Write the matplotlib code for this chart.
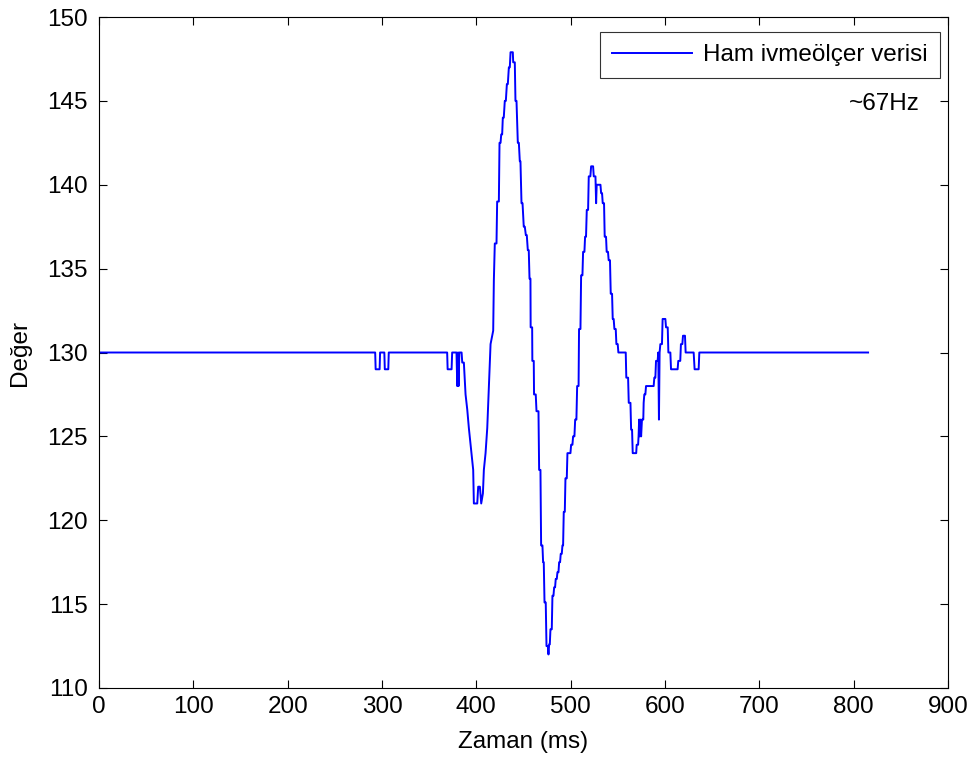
import matplotlib
matplotlib.use("Agg")
import matplotlib.pyplot as plt

# Sample times (ms) and raw accelerometer values
time_ms = [
    0, 292.8, 293.3, 297.5, 298.0, 302.5, 303.0, 306.7, 307.2, 369.1,
    369.6, 373.8, 374.4, 379.0, 379.8, 380.6, 381.2, 382.0, 384.4, 385.1,
    386.8, 388.6, 390.4, 392.1, 393.9, 396.7, 397.4, 401.0, 402.0, 403.8,
    405.2, 407.0, 408.0, 409.8, 411.6, 413.3, 415.1, 417.9, 418.6, 419.6,
    421.4, 422.1, 423.9, 424.6, 425.7, 426.4, 427.4, 428.1, 429.1, 430.2,
    431.3, 432.4, 433.4, 434.5, 435.5, 436.3, 438.7, 439.1, 440.8, 441.5,
    442.6, 444.0, 445.1, 446.1, 446.8, 447.9, 449.0, 450.3, 451.4, 452.5,
    453.5, 454.6, 455.6, 456.4, 457.4, 457.6, 459.2, 459.4, 460.9, 461.2,
    463.0, 463.8, 465.9, 466.6, 468.0, 468.7, 470.1, 470.8, 471.5, 472.3,
    473.6, 474.4, 475.8, 476.5, 477.2, 477.9, 478.6, 480.0, 480.7, 481.8,
    482.5, 483.5, 484.2, 485.3, 486.0, 487.1, 487.8, 488.8, 489.5, 490.6,
    491.3, 492.0, 492.7, 493.8, 494.5, 495.9, 496.6, 499.8, 500.5, 501.9,
    502.6, 504.0, 504.8, 506.1, 506.9, 508.4, 508.9, 510.4, 511.1, 512.5,
    513.2, 514.6, 515.3, 516.3, 517.1, 518.5, 519.2, 520.9, 521.7, 523.8,
    524.5, 526.3, 527.0, 527.6, 531.6, 532.3, 533.3, 534.0, 535.4, 536.1,
    537.5, 538.2, 539.6, 540.3, 541.7, 542.5, 543.9, 544.6, 545.6, 546.4,
    547.8, 548.5, 549.9, 550.6, 558.4, 559.0, 560.9, 561.6, 563.4, 564.1,
    565.1, 565.8, 569.5, 570.0, 571.5, 572.0, 572.6, 573.3, 574.0, 574.7,
    575.6, 577.0, 577.4, 578.1, 579.2, 579.9, 588.0, 588.7, 589.8, 590.5,
    592.2, 592.9, 593.6, 594.3, 595.1, 596.8, 597.5, 600.4, 601.1, 602.9,
    603.6, 605.7, 606.4, 613.4, 614.1, 616.2, 616.9, 618.4, 619.1, 621.2,
    621.9, 630.4, 631.4, 635.7, 636.4, 815.3,
]
values = [
    130, 130, 129, 129, 130, 130, 129, 129, 130, 130,
    129, 129, 130, 130, 128, 130, 128, 130, 130, 129.4,
    129.4, 127.5, 126.6, 125.5, 124.5, 123.0, 121.0, 121.0, 122.0, 122.0,
    121.0, 121.6, 123.0, 124.0, 125.5, 128.0, 130.5, 131.3, 134.3, 136.5,
    136.5, 139.0, 139.0, 142.5, 142.5, 143.0, 143.0, 144.0, 144.0, 145.0,
    145.0, 146.0, 146.0, 147.0, 147.0, 147.9, 147.9, 147.3, 147.3, 145.0,
    145.0, 142.5, 142.5, 141.4, 141.4, 138.9, 138.9, 137.5, 137.5, 137.0,
    137.0, 136.1, 136.1, 134.4, 134.4, 131.5, 131.5, 129.5, 129.5, 127.5,
    127.5, 126.5, 126.5, 123.0, 123.0, 118.5, 118.5, 117.5, 117.5, 115.1,
    115.1, 112.5, 112.5, 112.0, 112.6, 112.6, 113.5, 113.5, 115.5, 115.5,
    116.0, 116.0, 116.5, 116.5, 116.9, 116.9, 117.5, 117.5, 118.0, 118.0,
    118.5, 118.5, 120.5, 120.5, 122.5, 122.5, 124.0, 124.0, 124.5, 124.5,
    125.0, 125.0, 126.0, 126.0, 128.0, 128.0, 131.4, 131.4, 134.6, 134.6,
    136.0, 136.0, 136.9, 136.9, 138.5, 138.5, 140.5, 140.5, 141.1, 141.1,
    140.5, 140.5, 138.9, 140.0, 140.0, 139.5, 139.5, 138.9, 138.9, 136.9,
    136.9, 136.0, 136.0, 135.5, 135.5, 133.5, 133.5, 132.0, 132.0, 131.4,
    131.4, 130.5, 130.5, 130.0, 130.0, 128.5, 128.5, 127.0, 127.0, 125.4,
    125.4, 124.0, 124.0, 124.5, 124.5, 125.0, 126.0, 125.0, 126.0, 125.0,
    126.0, 126.0, 127.0, 127.5, 127.5, 128.0, 128.0, 128.5, 128.5, 129.5,
    129.5, 130.0, 126.0, 130.0, 130.5, 130.5, 132.0, 132.0, 131.5, 131.5,
    130.0, 130.0, 129.0, 129.0, 129.5, 129.5, 130.5, 130.5, 131.0, 131.0,
    130.0, 130.0, 129.0, 129.0, 130.0, 130.0,
]

x_ticks = [0, 100, 200, 300, 400, 500, 600, 700, 800, 900]
y_ticks = [110, 115, 120, 125, 130, 135, 140, 145, 150]

plt.rcParams['font.family'] = ['Liberation Sans', 'DejaVu Sans']
FS = 17.5

fig = plt.figure(figsize=(9.76, 7.63), dpi=100)
ax = fig.add_axes([0.1014, 0.0983, 0.8699, 0.8794])
ax.plot(time_ms, values, color=(0, 0, 1), lw=1.4, label='Ham ivmeölçer verisi')

ax.set_xlim(0, 900)
ax.set_ylim(110, 150)
ax.set_xticks(x_ticks)
ax.set_yticks(y_ticks)
ax.tick_params(direction='in', length=6, width=0.8, top=True, right=True,
               labelsize=FS, colors='black')
ax.tick_params(axis='x', pad=6)
ax.tick_params(axis='y', pad=8)
for s in ax.spines.values():
    s.set_linewidth(0.8)
    s.set_color('black')

ax.set_xlabel('Zaman (ms)', fontsize=FS, labelpad=9)
ax.set_ylabel('Değer', fontsize=FS, labelpad=12)

leg = ax.legend(loc='upper right', bbox_to_anchor=(0.9906, 0.9776),
                borderaxespad=0, fontsize=FS, frameon=True, fancybox=False,
                handlelength=3.3, handletextpad=0.45, borderpad=0.5)
leg.get_frame().set_edgecolor('black')
leg.get_frame().set_linewidth(0.8)

ax.text(0.967, 0.870, '~67Hz', transform=ax.transAxes, ha='right',
        va='center', fontsize=FS)

fig.savefig('out.png', dpi=100)
